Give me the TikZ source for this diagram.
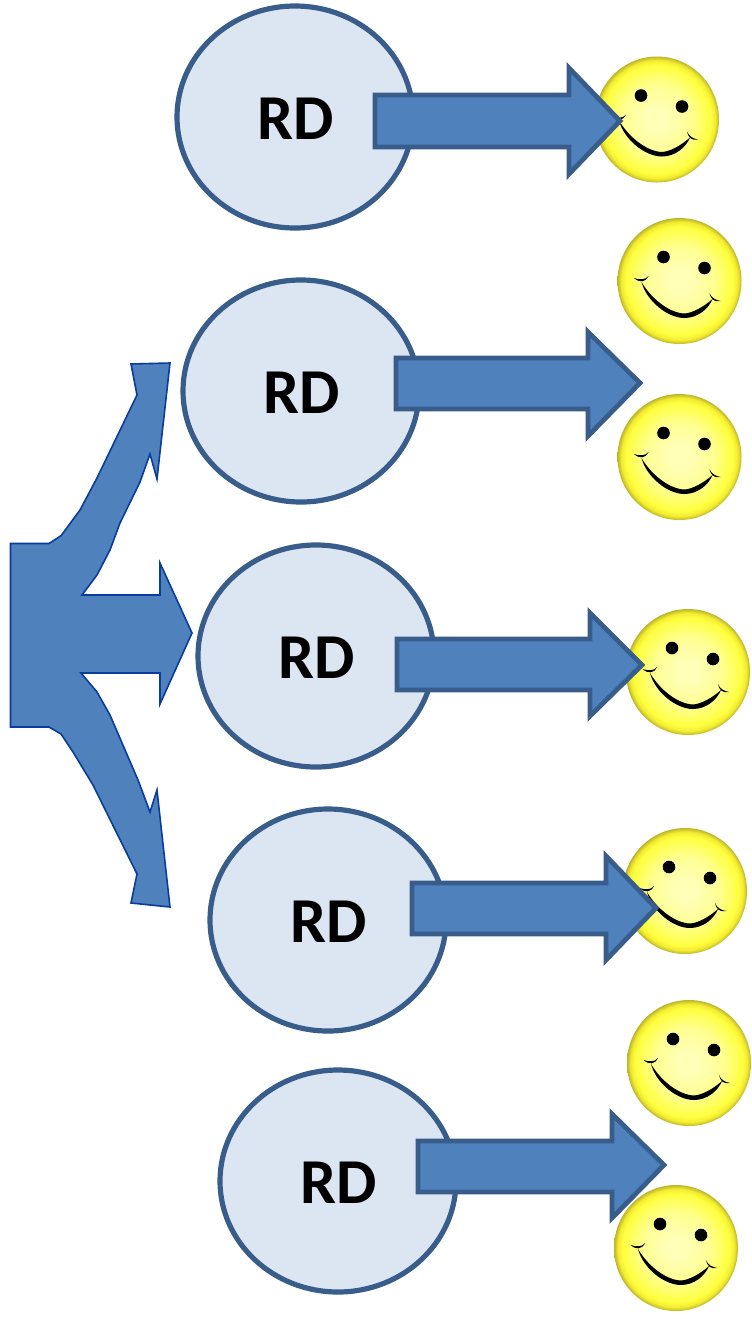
\documentclass[tikz,border=0pt]{standalone}
\usepackage{fontspec}
\setmainfont{Carlito}
\usetikzlibrary{shapes.geometric}
\definecolor{circfill}{HTML}{DCE6F2}
\definecolor{circline}{HTML}{385D8A}
\definecolor{arrfill}{HTML}{4F81BD}
\definecolor{forkline}{HTML}{0A3C9C}
\definecolor{smA}{HTML}{FFFFB8}
\definecolor{smB}{HTML}{FFFF90}
\definecolor{smC}{HTML}{FFFF40}
\definecolor{smD}{HTML}{F2EC30}
\definecolor{smE}{HTML}{BDB52A}
\pgfdeclareradialshading{smileshade}{\pgfpoint{0bp}{0bp}}{%
  color(0bp)=(smA); color(4bp)=(smA); color(14bp)=(smB); color(21.5bp)=(smC); color(23.5bp)=(smD); color(25bp)=(smE); color(50bp)=(smE)}
\newcommand{\rdtext}{\hspace*{1pt}\raisebox{-11.2pt}[0pt][0pt]{RD}}
\tikzset{
  x=.5pt,y=-.5pt,
  rdnode/.style={ellipse,draw=circline,fill=circfill,line width=2.6pt,minimum width=118pt,minimum height=111pt,inner sep=0pt,
     font=\fontsize{32pt}{32pt}\selectfont\bfseries},
  blockarrow/.style={draw=circline,fill=arrfill,line width=2.4pt,line join=miter},
  fork/.style={draw=forkline,fill=arrfill,line width=.8pt,line join=miter},
  smiley/.pic={
    \shade[shading=smileshade] (0,0) ellipse [x radius=62,y radius=63];
    \fill[black] (-16,-24) circle [radius=6.3];
    \fill[black] (25,-13) circle [radius=6.3];
    \fill[black] (-38,1) .. controls (-33,20) and (-12,37) .. (5,37) .. controls (18,37) and (29,28) .. (33,18)
       .. controls (24,26) and (13,32) .. (5,32.5) .. controls (-10,32) and (-28,18) .. (-38,1) -- cycle;
    \fill[black] (-45.5,-3) .. controls (-40,2) and (-34,1.5) .. (-31,-5) .. controls (-34,-1) and (-40,-1) .. (-45.5,-3) -- cycle;
    \fill[black] (30,12) .. controls (31,18) and (35,21.5) .. (41,20) .. controls (36,19) and (32,17) .. (30,12) -- cycle;
  }
}
\begin{document}
\begin{tikzpicture}
\useasboundingbox (0,0) rectangle (751,1319);
% smileys
\pic at (657,119.5) {smiley};
\pic at (679.5,281) {smiley};
\pic at (679.5,457) {smiley};
\pic at (688,672) {smiley};
\pic at (685,891) {smiley};
\pic at (689,1063) {smiley};
\pic at (676,1248) {smiley};
% RD nodes
\node[rdnode] (rd1) at (295,117) {\rdtext};
\node[rdnode] (rd2) at (301,391) {\rdtext};
\node[rdnode] (rd3) at (316,656) {\rdtext};
\node[rdnode] (rd4) at (328,920) {\rdtext};
\node[rdnode] (rd5) at (338,1181) {\rdtext};
% block arrows
\draw[blockarrow] (375,95) -- (569,95) -- (569,68) -- (620,121) -- (569,174) -- (569,147) -- (375,147) -- cycle;
\draw[blockarrow] (396,358) -- (588,358) -- (588,332) -- (640,383) -- (588,436) -- (588,409) -- (396,409) -- cycle;
\draw[blockarrow] (397,639) -- (590,639) -- (590,613) -- (642,665) -- (590,716) -- (590,690) -- (397,690) -- cycle;
\draw[blockarrow] (412,883) -- (606,883) -- (606,856) -- (656,908) -- (606,960) -- (606,934) -- (412,934) -- cycle;
\draw[blockarrow] (418,1141) -- (612,1141) -- (612,1114) -- (664,1165) -- (612,1218) -- (612,1192) -- (418,1192) -- cycle;
% fork arrow
\draw[fork] (10.5,543.5) -- (49,543.5) -- (61,535.7) -- (80,510) -- (97,478) -- (137,395) -- (131,364) -- (170,363)
  -- (157,479) -- (150,454) -- (140,482) -- (120,523) -- (110,550) -- (97,575) -- (82,595) -- (160,595) -- (160,563)
  -- (192,633) -- (160,704) -- (160,673) -- (81,673) -- (97,692) -- (110,715) -- (138,780) -- (150,812) -- (157,790)
  -- (170,907) -- (131,903) -- (137,874) -- (93,785) -- (73,752) -- (61,734) -- (49,727) -- (10.5,727) -- cycle;
\end{tikzpicture}
\end{document}
